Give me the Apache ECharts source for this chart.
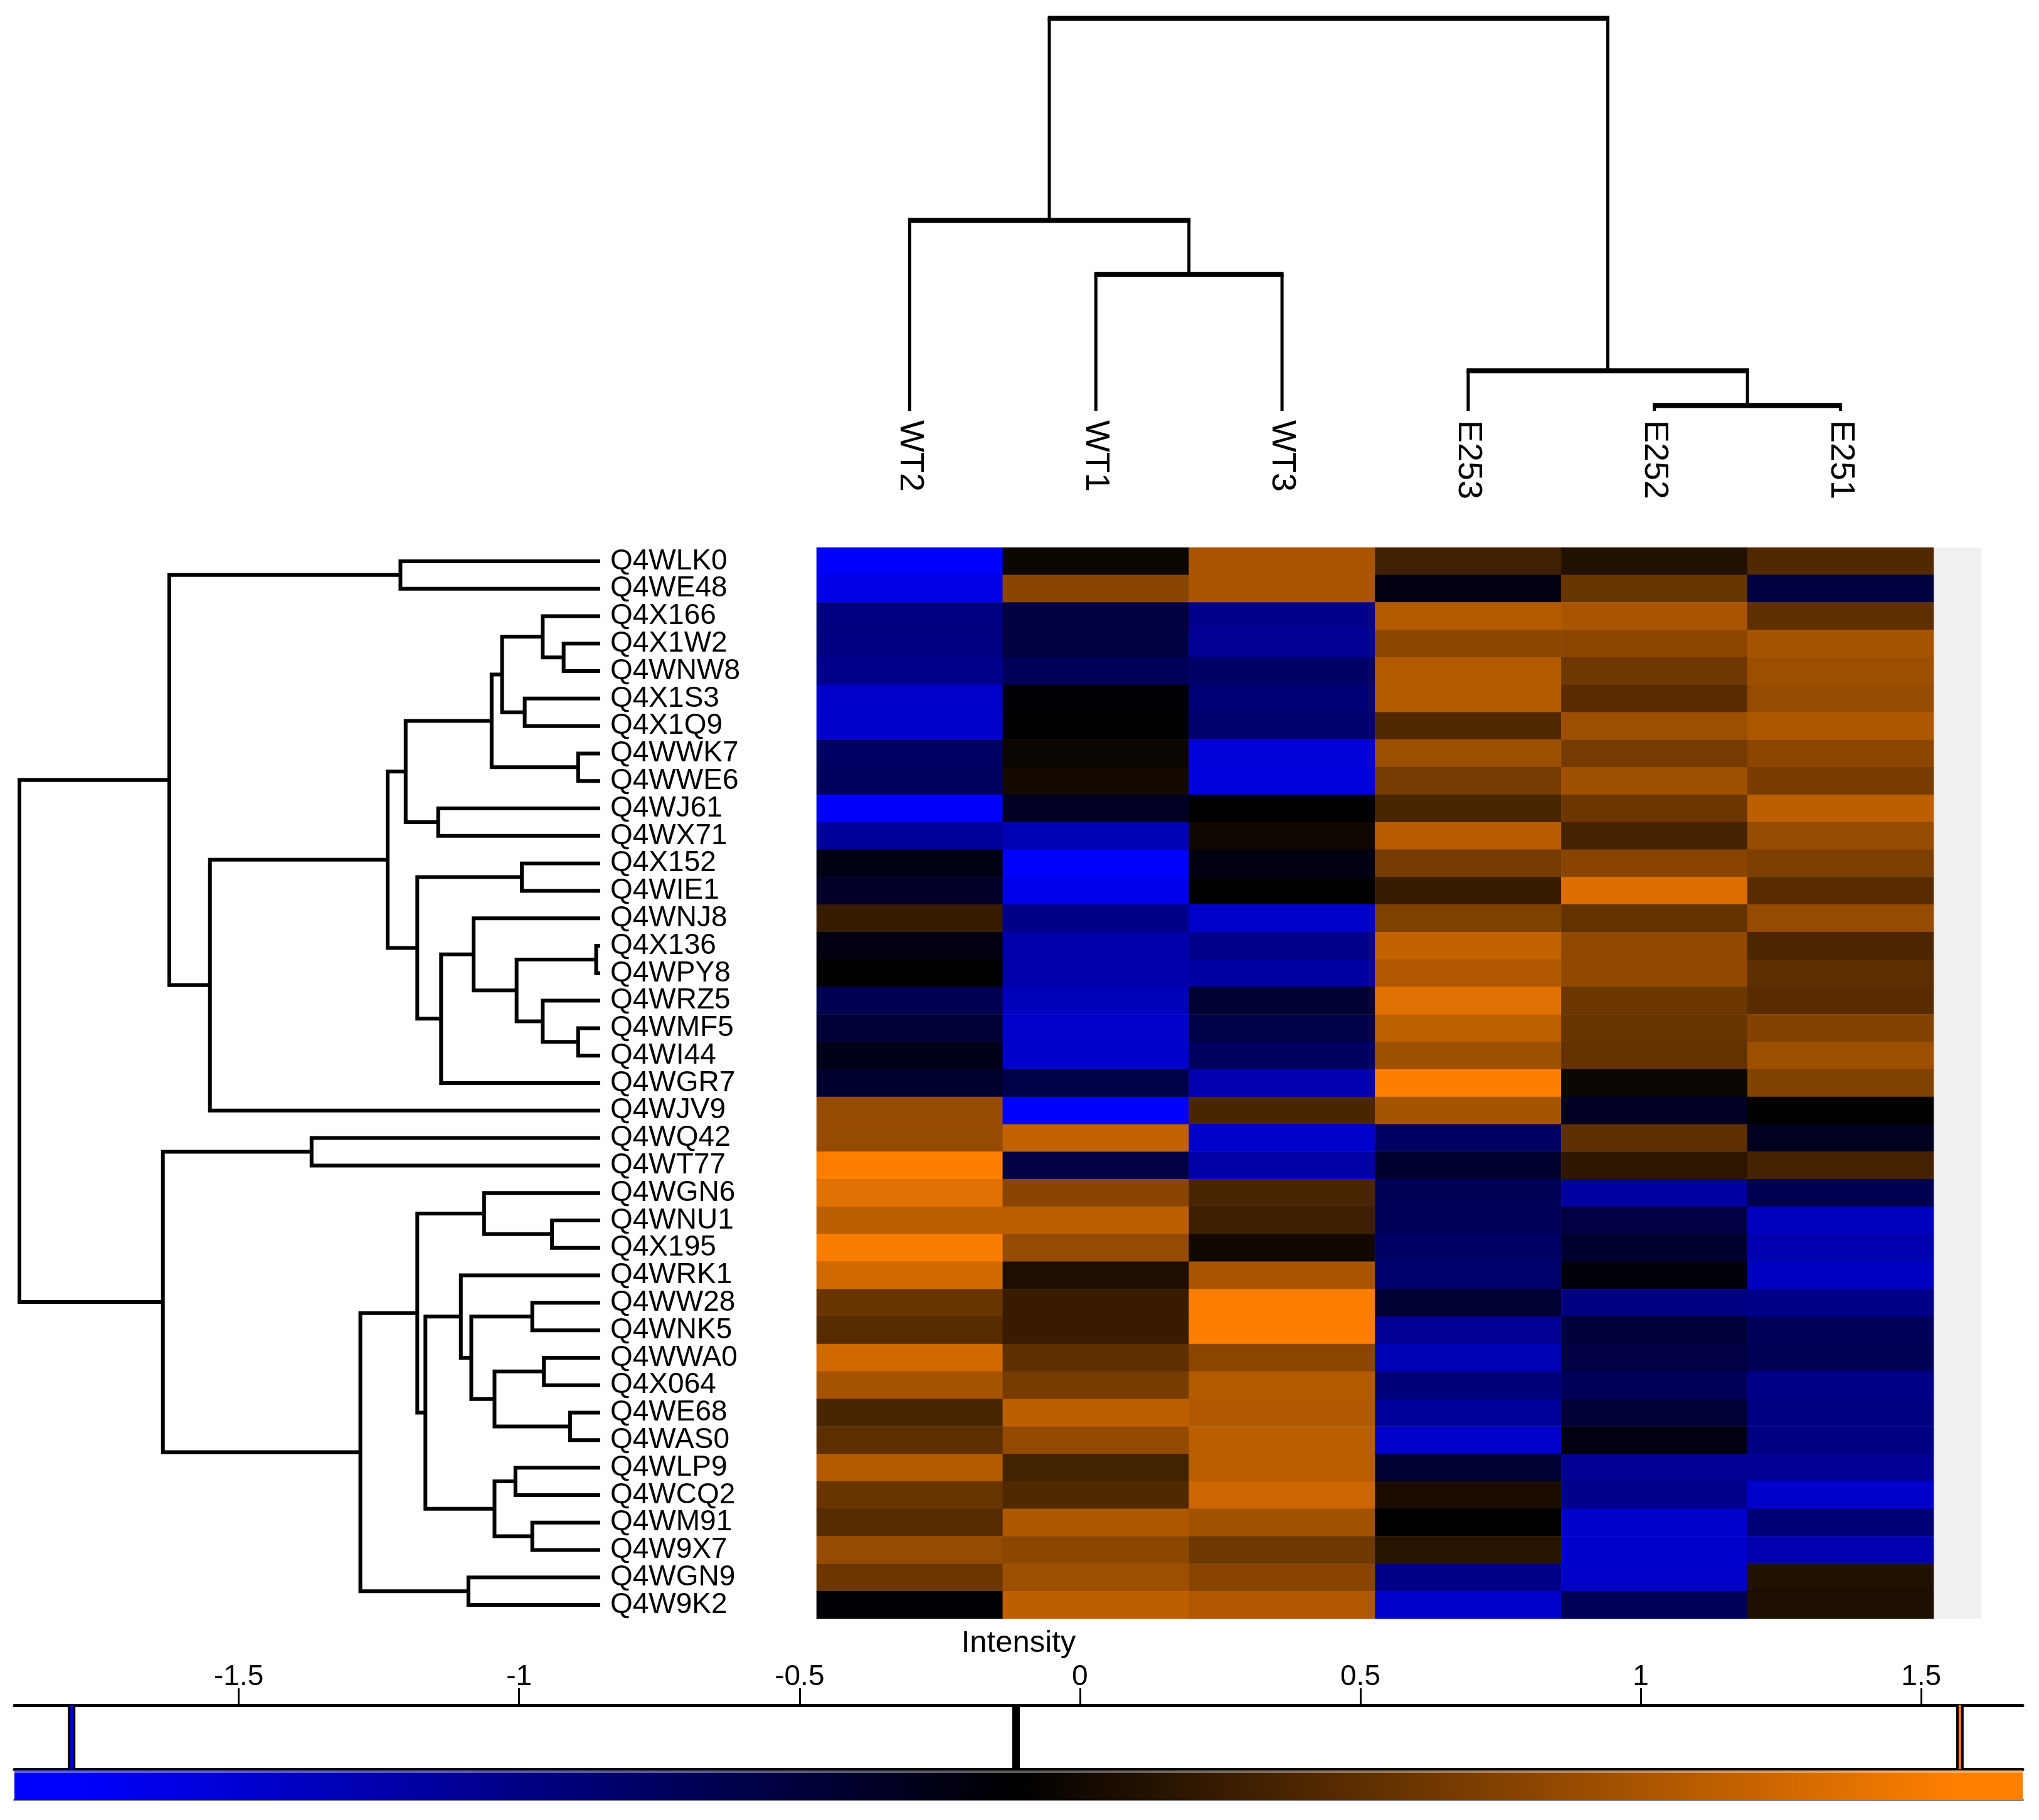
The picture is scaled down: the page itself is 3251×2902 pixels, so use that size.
<!DOCTYPE html>
<html><head><meta charset="utf-8">
<script src="https://cdn.jsdelivr.net/npm/echarts@6/dist/echarts.min.js"></script>
<style>html,body{margin:0;padding:0;background:#fff}#c{width:3251px;height:2902px}</style>
</head><body><div id="c"></div>
<script>
// ---------- data ----------
const samples = ['WT2','WT1','WT3','E253','E252','E251'];
const proteins = ['Q4WLK0','Q4WE48','Q4X166','Q4X1W2','Q4WNW8','Q4X1S3','Q4X1Q9','Q4WWK7','Q4WWE6','Q4WJ61',
  'Q4WX71','Q4X152','Q4WIE1','Q4WNJ8','Q4X136','Q4WPY8','Q4WRZ5','Q4WMF5','Q4WI44','Q4WGR7',
  'Q4WJV9','Q4WQ42','Q4WT77','Q4WGN6','Q4WNU1','Q4X195','Q4WRK1','Q4WW28','Q4WNK5','Q4WWA0',
  'Q4X064','Q4WE68','Q4WAS0','Q4WLP9','Q4WCQ2','Q4WM91','Q4W9X7','Q4WGN9','Q4W9K2'];
const valuesWT2 = [-1.80,-1.64,-0.96,-0.96,-1.04,-1.44,-1.47,-0.78,-0.75,-1.77,-1.14,-0.25,-0.38,0.24,-0.22,-0.12,-0.65,-0.48,-0.28,-0.42,
  0.87,0.87,1.56,1.37,1.13,1.53,1.26,0.57,0.45,1.26,0.99,0.37,0.49,1.07,0.57,0.45,0.87,0.60,-0.15];
const valuesWT1 = [-0.04,0.79,-0.54,-0.54,-0.71,-0.15,-0.12,-0.05,0.01,-0.35,-1.31,-1.80,-1.67,-1.01,-1.24,-1.24,-1.34,-1.44,-1.47,-0.58,
  -1.80,1.16,-0.55,0.79,1.13,0.87,0.08,0.26,0.26,0.51,0.67,1.13,0.86,0.33,0.42,1.03,0.80,0.92,1.13];
const valuesWT3 = [1.00,1.01,-1.04,-1.11,-0.78,-0.88,-0.84,-1.54,-1.57,-0.12,-0.01,-0.22,-0.12,-1.47,-1.04,-1.17,-0.45,-0.58,-0.75,-1.27,
  0.37,-1.47,-1.21,0.37,0.29,0.00,1.00,1.56,1.56,0.80,1.07,1.05,1.12,1.11,1.23,0.96,0.62,0.79,1.04];
const valuesE253 = [0.31,-0.23,1.07,0.80,1.07,1.07,0.42,0.93,0.66,0.37,1.10,0.66,0.25,0.74,1.17,1.05,1.37,1.14,0.93,1.56,
  0.99,-0.78,-0.42,-0.68,-0.71,-0.78,-0.84,-0.45,-1.11,-1.31,-0.91,-1.14,-1.44,-0.44,0.06,-0.12,0.14,-1.01,-1.47];
const valuesE252 = [0.11,0.58,1.00,0.80,0.62,0.47,0.92,0.66,0.93,0.60,0.35,0.79,1.34,0.54,0.84,0.84,0.59,0.57,0.54,-0.05,
  -0.35,0.51,0.18,-1.17,-0.55,-0.42,-0.19,-0.98,-0.52,-0.55,-0.71,-0.48,-0.22,-1.08,-1.04,-1.47,-1.47,-1.44,-0.71];
const valuesE251 = [0.42,-0.54,0.51,0.99,0.92,0.87,1.03,0.80,0.68,1.13,0.87,0.71,0.47,0.87,0.39,0.50,0.47,0.76,0.92,0.74,
  -0.12,-0.32,0.35,-0.65,-1.37,-1.27,-1.40,-1.01,-0.71,-0.68,-1.01,-0.98,-0.98,-1.11,-1.47,-0.88,-1.27,0.10,0.08];
const sampleValues = [valuesWT2, valuesWT1, valuesWT3, valuesE253, valuesE252, valuesE251];

// row linkage: [childA, childB, height]; leaves 0..38, clusters 39+k
const rowLinkage = [
  [0,1,0.344],[3,4,0.063],[2,40,0.099],[5,6,0.130],[41,42,0.169],[7,8,0.038],[43,44,0.187],[9,10,0.279],
  [45,46,0.335],[11,12,0.135],[14,15,0.007],[17,18,0.038],[16,50,0.099],[49,51,0.144],[13,52,0.218],
  [53,19,0.274],[48,54,0.315],[47,55,0.366],[56,20,0.672],[39,57,0.742],
  [21,22,0.497],[24,25,0.083],[23,60,0.200],[27,28,0.117],[29,30,0.097],[31,32,0.052],[63,64,0.182],
  [62,65,0.222],[26,66,0.240],[33,34,0.146],[35,36,0.117],[68,69,0.182],[67,70,0.301],[61,71,0.315],
  [37,38,0.227],[72,73,0.413],[59,74,0.753],[58,75,1.0]
];
// column linkage: leaves 0..5, clusters 6+k
const colLinkage = [[1,2,0.347],[0,6,0.485],[4,5,0.013],[3,8,0.102],[7,9,1.0]];

// colour scale
const scaleStops = [-1.798, -0.114, 1.569];
const scaleColors = ['#0000ff', '#000000', '#ff8000'];
const barRange = [-1.90, 1.681];
const tickValues = [-1.5, -1, -0.5, 0, 0.5, 1, 1.5];

// ---------- build ----------
const heatData = [];
sampleValues.forEach((col, ci) => col.forEach((v, ri) => heatData.push([ci, ri, v])));

function dendroSegments(linkage, n) {
  const pos = [], ht = [];
  for (let i = 0; i < n; i++) { pos[i] = i; ht[i] = 0; }
  const segs = [];
  linkage.forEach((m, k) => {
    const id = n + k, a = m[0], b = m[1];
    pos[id] = (pos[a] + pos[b]) / 2; ht[id] = m[2];
    segs.push([pos[a], ht[a], pos[b], ht[b], m[2]]);
  });
  return segs;
}
const rowSegs = dendroSegments(rowLinkage, proteins.length);
const colSegs = dendroSegments(colLinkage, samples.length);

const FONT = "'Liberation Sans', Arial, sans-serif";
const chart = echarts.init(document.getElementById('c'), null, {renderer: 'canvas'});
const span = barRange[1] - barRange[0];
const gradStops = scaleStops.map((v, i) => ({offset: (v - barRange[0]) / span, color: scaleColors[i]}));
gradStops.unshift({offset: 0, color: scaleColors[0]});
gradStops.push({offset: 1, color: scaleColors[2]});

const HM_LEFT = 1302, HM_W = 1781;

chart.setOption({
  animation: false,
  backgroundColor: '#fff',
  textStyle: {fontFamily: FONT},
  grid: [
    {left: HM_LEFT, top: 873, width: HM_W, height: 1708},
    {left: 31, top: 873, width: 926, height: 1708},
    {left: HM_LEFT, top: 29, width: HM_W, height: 626},
    {left: 23, top: 2719, width: 3202, height: 102},
    {left: 23, top: 2823, width: 3202, height: 47}
  ],
  xAxis: [
    {type: 'category', data: samples, gridIndex: 0, show: false},
    {type: 'value', gridIndex: 1, min: 0, max: 1, inverse: true, show: false},
    {type: 'value', gridIndex: 2, min: -0.5, max: 5.5, show: false, position: 'top'},
    {type: 'category', data: samples, gridIndex: 2, position: 'bottom',
      axisLine: {show: false, onZero: false}, axisTick: {show: false}, splitLine: {show: false},
      axisLabel: {rotate: -90, margin: 15, interval: 0, fontSize: 54, color: '#000', fontFamily: FONT}},
    {type: 'value', gridIndex: 3, position: 'top', min: barRange[0], max: barRange[1],
      axisLine: {show: true, onZero: false, lineStyle: {color: '#000', width: 5}},
      axisTick: {show: true, customValues: tickValues, length: 27, lineStyle: {color: '#000', width: 3}},
      axisLabel: {show: true, customValues: tickValues, fontSize: 46, margin: 22, color: '#000', fontFamily: FONT},
      splitLine: {show: false},
      name: 'Intensity', nameLocation: 'middle', nameGap: 74,
      nameTextStyle: {fontSize: 49, color: '#000', fontFamily: FONT}},
    {type: 'value', gridIndex: 3, position: 'bottom', min: barRange[0], max: barRange[1],
      axisLine: {show: true, onZero: false, lineStyle: {color: '#000', width: 5}},
      axisTick: {show: false}, axisLabel: {show: false}, splitLine: {show: false}},
    {type: 'value', gridIndex: 4, position: 'bottom', min: barRange[0], max: barRange[1],
      axisLine: {show: true, onZero: false, lineStyle: {color: '#808080', width: 4}},
      axisTick: {show: false}, axisLabel: {show: false}, splitLine: {show: false}}
  ],
  yAxis: [
    {type: 'category', data: proteins, gridIndex: 0, inverse: true,
      axisLine: {show: false}, axisTick: {show: false}, splitLine: {show: false},
      axisLabel: {interval: 0, align: 'left', margin: 329, fontSize: 46, color: '#000', fontFamily: FONT,
        padding: [16, 0, 0, 0]}},
    {type: 'value', gridIndex: 1, min: -0.5, max: proteins.length - 0.5, inverse: true, show: false},
    {type: 'value', gridIndex: 2, min: 0, max: 1, show: false},
    {type: 'value', gridIndex: 3, min: 0, max: 1, show: false},
    {type: 'value', gridIndex: 4, min: 0, max: 1, show: false}
  ],
  visualMap: {
    type: 'continuous', show: false, seriesIndex: 0, dimension: 2,
    min: scaleStops[0], max: scaleStops[2],
    inRange: {color: scaleColors}
  },
  graphic: [
    {type: 'rect', shape: {x: HM_LEFT + HM_W, y: 873, width: 76, height: 1708}, style: {fill: '#f0f0f0'}, z: -1}
  ],
  series: [
    {type: 'heatmap', xAxisIndex: 0, yAxisIndex: 0, data: heatData,
      itemStyle: {borderWidth: 0}, emphasis: {disabled: true}, progressive: 0},
    {type: 'custom', xAxisIndex: 1, yAxisIndex: 1, data: rowSegs, silent: true,
      renderItem: function (params, api) {
        const ya = api.value(0), ha = api.value(1), yb = api.value(2), hb = api.value(3), h = api.value(4);
        const pts = [api.coord([ha, ya]), api.coord([h, ya]), api.coord([h, yb]), api.coord([hb, yb])];
        return {type: 'polyline', shape: {points: pts},
          style: {stroke: '#000', lineWidth: 6, fill: null, lineJoin: 'miter'}};
      }},
    {type: 'custom', xAxisIndex: 2, yAxisIndex: 2, data: colSegs, silent: true,
      renderItem: function (params, api) {
        const xa = api.value(0), ha = api.value(1), xb = api.value(2), hb = api.value(3), h = api.value(4);
        const a0 = api.coord([xa, ha]), a1 = api.coord([xa, h]);
        const b0 = api.coord([xb, hb]), b1 = api.coord([xb, h]);
        return {type: 'group', children: [
          {type: 'line', shape: {x1: a0[0], y1: a0[1], x2: a1[0], y2: a1[1]}, style: {stroke: '#000', lineWidth: 5}},
          {type: 'line', shape: {x1: b0[0], y1: b0[1], x2: b1[0], y2: b1[1]}, style: {stroke: '#000', lineWidth: 5}},
          {type: 'line', shape: {x1: a1[0] - 2.5, y1: a1[1], x2: b1[0] + 2.5, y2: b1[1]}, style: {stroke: '#000', lineWidth: 8}}
        ]};
      }},
    {type: 'custom', xAxisIndex: 6, yAxisIndex: 4, data: [[barRange[0], barRange[1]]], silent: true,
      renderItem: function (params, api) {
        const p0 = api.coord([api.value(0), 1]), p1 = api.coord([api.value(1), 0]);
        return {type: 'group', children: [
          {type: 'rect', shape: {x: p0[0], y: p0[1], width: p1[0] - p0[0], height: p1[1] - p0[1]},
            style: {fill: new echarts.graphic.LinearGradient(0, 0, 1, 0, gradStops)}},
          {type: 'rect', shape: {x: p0[0], y: p0[1], width: p1[0] - p0[0], height: 4},
            style: {fill: 'rgba(255,255,255,0.35)'}}
        ]};
      }},
    {type: 'custom', xAxisIndex: 4, yAxisIndex: 3, silent: true,
      data: scaleStops.map((v, i) => [v, i]),
      renderItem: function (params, api) {
        const v = api.value(0), idx = api.value(1);
        const top = api.coord([v, 1]), bot = api.coord([v, 0]);
        return {type: 'group', children: [
          {type: 'rect', shape: {x: top[0] - 6, y: top[1], width: 12, height: bot[1] - top[1]}, style: {fill: '#000'}},
          {type: 'rect', shape: {x: top[0] - 2, y: top[1], width: 4, height: bot[1] - top[1]}, style: {fill: scaleColors[idx]}}
        ]};
      }}
  ]
});
</script></body></html>
